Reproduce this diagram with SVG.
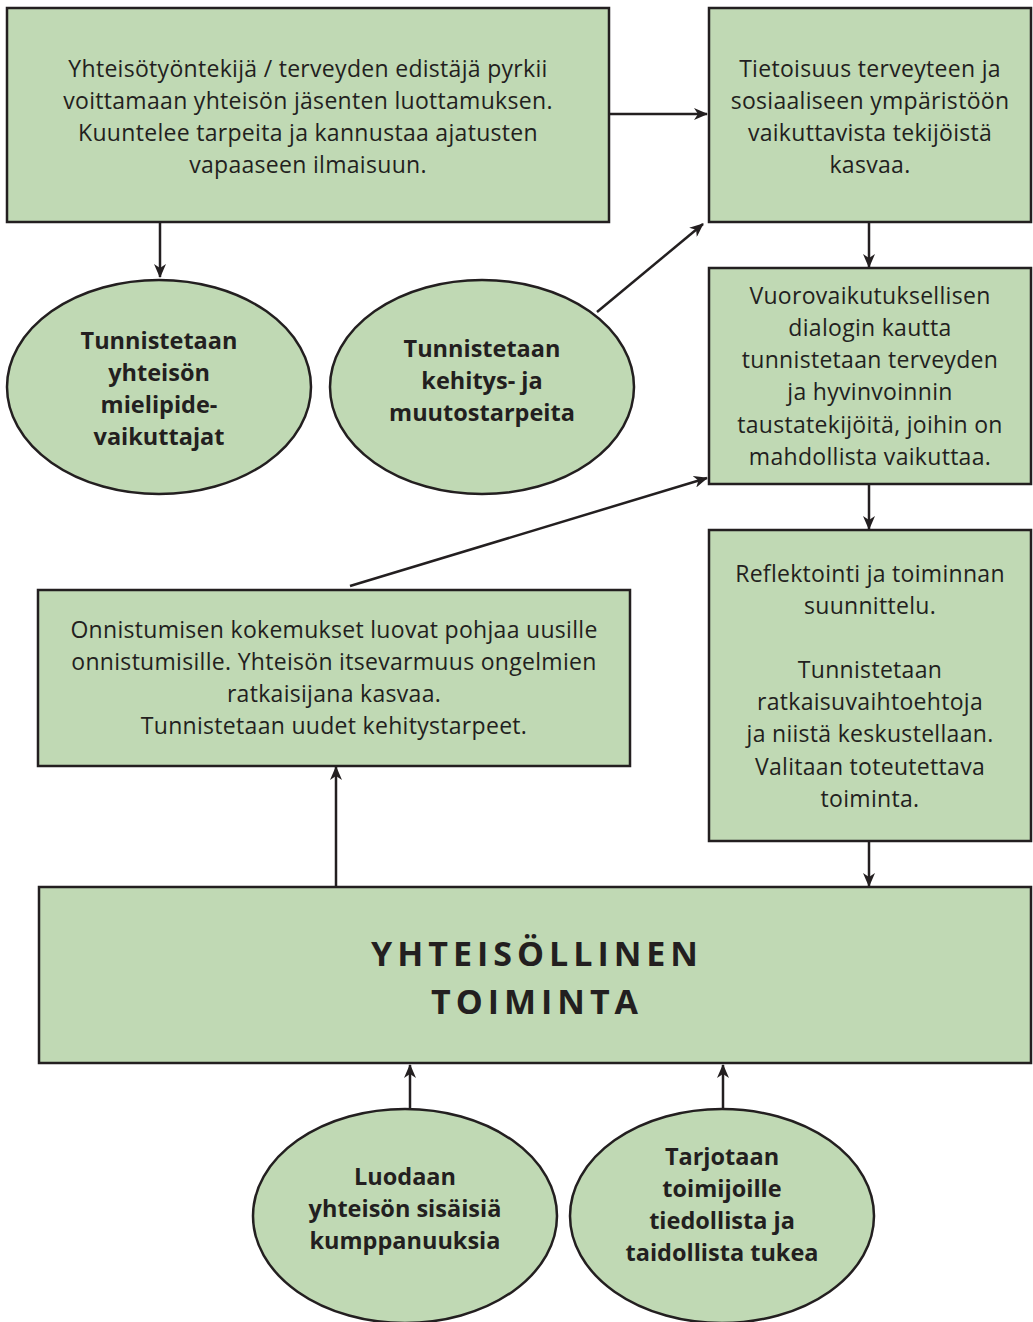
<svg xmlns="http://www.w3.org/2000/svg" width="1033" height="1322" viewBox="0 0 1033 1322">
<style>
.n{fill:#c0d9b4;stroke:#231f20;stroke-width:2.5}
.t{font-family:"Open Sans","Liberation Sans",sans-serif;font-size:23px;letter-spacing:0.3px;fill:#231f20;text-anchor:middle}
.b{font-family:"Open Sans","Liberation Sans",sans-serif;font-size:23.5px;font-weight:bold;fill:#231f20;text-anchor:middle}
.h{font-family:"Open Sans","Liberation Sans",sans-serif;font-size:34px;font-weight:bold;fill:#231f20;text-anchor:middle;letter-spacing:5px}
.c{stroke:#231f20;stroke-width:2.5;fill:none;marker-end:url(#a)}
</style>
<defs>
<marker id="a" markerWidth="14" markerHeight="12" refX="13" refY="6" orient="auto" markerUnits="userSpaceOnUse" viewBox="0 0 14 12">
<path d="M0,0 L14,6 L0,12 L4,6 Z" fill="#231f20"/>
</marker>
</defs>
<rect width="1033" height="1322" fill="#fff"/>
<g id="connectors">
<line class="c" x1="609" y1="114" x2="707" y2="114"/>
<line class="c" x1="160" y1="222" x2="160" y2="277"/>
<line class="c" x1="597" y1="312" x2="703" y2="224"/>
<line class="c" x1="869" y1="222" x2="869" y2="267"/>
<line class="c" x1="869" y1="484" x2="869" y2="529"/>
<line class="c" x1="869" y1="841" x2="869" y2="886"/>
<line class="c" x1="336" y1="887" x2="336" y2="767"/>
<line class="c" x1="350" y1="586" x2="707" y2="478"/>
<line class="c" x1="410" y1="1108" x2="410" y2="1065"/>
<line class="c" x1="723" y1="1108" x2="723" y2="1065"/>
</g>
<g id="n1">
<rect class="n" x="7" y="8" width="602" height="214"/>
<text class="t" x="308" y="77">Yhteisötyöntekijä / terveyden edistäjä pyrkii</text>
<text class="t" x="308" y="109">voittamaan yhteisön jäsenten luottamuksen.</text>
<text class="t" x="308" y="141">Kuuntelee tarpeita ja kannustaa ajatusten</text>
<text class="t" x="308" y="173">vapaaseen ilmaisuun.</text>
</g>
<g id="n2">
<rect class="n" x="709" y="8" width="322" height="214"/>
<text class="t" x="870" y="77">Tietoisuus terveyteen ja</text>
<text class="t" x="870" y="109">sosiaaliseen ympäristöön</text>
<text class="t" x="870" y="141">vaikuttavista tekijöistä</text>
<text class="t" x="870" y="173">kasvaa.</text>
</g>
<g id="n3">
<rect class="n" x="709" y="268" width="322" height="216"/>
<text class="t" x="870" y="304">Vuorovaikutuksellisen</text>
<text class="t" x="870" y="336">dialogin kautta</text>
<text class="t" x="870" y="368">tunnistetaan terveyden</text>
<text class="t" x="870" y="400">ja hyvinvoinnin</text>
<text class="t" x="870" y="433">taustatekijöitä, joihin on</text>
<text class="t" x="870" y="465">mahdollista vaikuttaa.</text>
</g>
<g id="n4">
<rect class="n" x="709" y="530" width="322" height="311"/>
<text class="t" x="870" y="582">Reflektointi ja toiminnan</text>
<text class="t" x="870" y="614">suunnittelu.</text>
<text class="t" x="870" y="678">Tunnistetaan</text>
<text class="t" x="870" y="710">ratkaisuvaihtoehtoja</text>
<text class="t" x="870" y="742">ja niistä keskustellaan.</text>
<text class="t" x="870" y="775">Valitaan toteutettava</text>
<text class="t" x="870" y="807">toiminta.</text>
</g>
<g id="n5">
<rect class="n" x="38" y="590" width="592" height="176"/>
<text class="t" x="334" y="638">Onnistumisen kokemukset luovat pohjaa uusille</text>
<text class="t" x="334" y="670">onnistumisille. Yhteisön itsevarmuus ongelmien</text>
<text class="t" x="334" y="702">ratkaisijana kasvaa.</text>
<text class="t" x="334" y="734">Tunnistetaan uudet kehitystarpeet.</text>
</g>
<g id="n6">
<rect class="n" x="39" y="887" width="992" height="176"/>
<text class="h" x="537" y="966">YHTEISÖLLINEN</text>
<text class="h" x="537" y="1014">TOIMINTA</text>
</g>
<g id="e1">
<ellipse class="n" cx="159" cy="387" rx="152" ry="107"/>
<text class="b" x="159" y="349">Tunnistetaan</text>
<text class="b" x="159" y="381">yhteisön</text>
<text class="b" x="159" y="413">mielipide-</text>
<text class="b" x="159" y="445">vaikuttajat</text>
</g>
<g id="e2">
<ellipse class="n" cx="482" cy="387" rx="152" ry="107"/>
<text class="b" x="482" y="357">Tunnistetaan</text>
<text class="b" x="482" y="389">kehitys- ja</text>
<text class="b" x="482" y="421">muutostarpeita</text>
</g>
<g id="e3">
<ellipse class="n" cx="405" cy="1216" rx="152" ry="107"/>
<text class="b" x="405" y="1185">Luodaan</text>
<text class="b" x="405" y="1217">yhteisön sisäisiä</text>
<text class="b" x="405" y="1249">kumppanuuksia</text>
</g>
<g id="e4">
<ellipse class="n" cx="722" cy="1216" rx="152" ry="107"/>
<text class="b" x="722" y="1165">Tarjotaan</text>
<text class="b" x="722" y="1197">toimijoille</text>
<text class="b" x="722" y="1229">tiedollista ja</text>
<text class="b" x="722" y="1261">taidollista tukea</text>
</g>
</svg>
